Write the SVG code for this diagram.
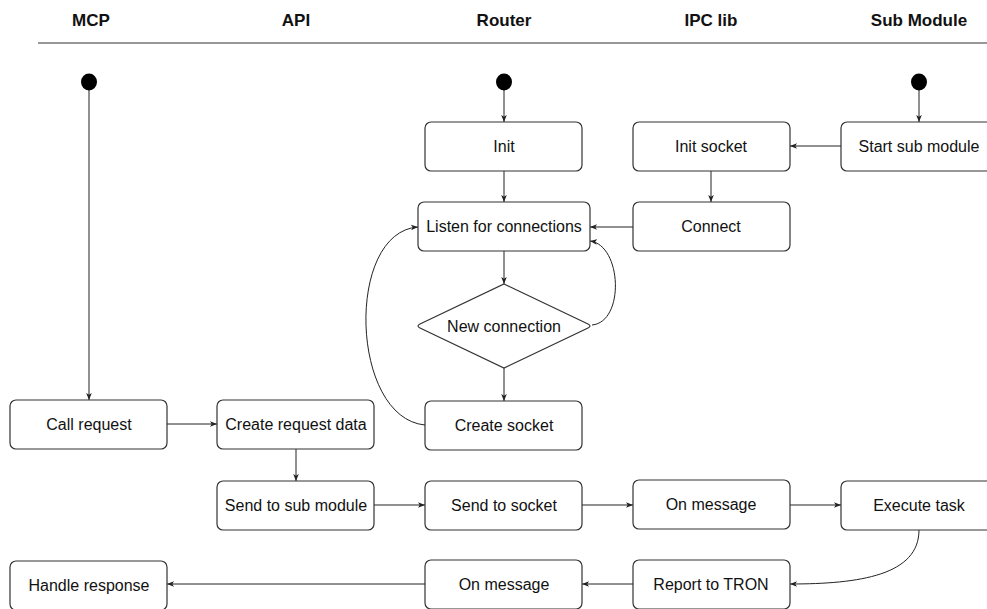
<svg xmlns="http://www.w3.org/2000/svg" width="987" height="609" viewBox="0 0 987 609">
<defs>
<marker id="arr" viewBox="0 0 10 10" refX="10" refY="5" markerWidth="7" markerHeight="7" orient="auto" markerUnits="userSpaceOnUse">
<path d="M0,1 L10,5 L0,9 L2.5,5 Z" fill="#222"/>
</marker>
<style>
.box{fill:#fff;stroke:#333;stroke-width:1.2}
.t{font-family:"Liberation Sans","DejaVu Sans",sans-serif;font-size:16px;fill:#111;text-anchor:middle;dominant-baseline:central}
.h{font-family:"Liberation Sans","DejaVu Sans",sans-serif;font-size:17px;font-weight:bold;fill:#111;text-anchor:middle;dominant-baseline:central}
.c{fill:none;stroke:#222;stroke-width:1;marker-end:url(#arr)}
</style>
</defs>
<rect width="987" height="609" fill="#fff"/>
<g id="header">
<text class="h" x="91" y="20">MCP</text>
<text class="h" x="296" y="20">API</text>
<text class="h" x="504" y="20">Router</text>
<text class="h" x="711" y="20">IPC lib</text>
<text class="h" x="919" y="20">Sub Module</text>
<line x1="38" y1="43" x2="987" y2="43" stroke="#333" stroke-width="1.2"/>
</g>
<g id="connectors">
<line class="c" x1="89" y1="88" x2="89" y2="400"/>
<line class="c" x1="504" y1="88" x2="504" y2="122"/>
<line class="c" x1="919" y1="88" x2="919" y2="122"/>
<line class="c" x1="841" y1="146" x2="790" y2="146"/>
<line class="c" x1="711" y1="171" x2="711" y2="202"/>
<line class="c" x1="633" y1="227" x2="590" y2="227"/>
<line class="c" x1="504" y1="171" x2="504" y2="202"/>
<line class="c" x1="504" y1="251" x2="504" y2="284"/>
<path class="c" d="M592,325 C625,322 622,245 590,241"/>
<line class="c" x1="504" y1="368" x2="504" y2="401"/>
<path class="c" d="M425,425 C350,418 345,232 418,227"/>
<line class="c" x1="167" y1="424" x2="217" y2="424"/>
<line class="c" x1="296" y1="449" x2="296" y2="481"/>
<line class="c" x1="374" y1="505" x2="425" y2="505"/>
<line class="c" x1="582" y1="505" x2="633" y2="505"/>
<line class="c" x1="790" y1="505" x2="841" y2="505"/>
<path class="c" d="M919,530 C919,575 860,584 790,584"/>
<line class="c" x1="633" y1="584" x2="582" y2="584"/>
<line class="c" x1="425" y1="584" x2="167" y2="584"/>
</g>
<g id="start-mcp"><ellipse cx="89" cy="82" rx="8" ry="8.5" fill="#000"/></g>
<g id="start-router"><ellipse cx="504" cy="82" rx="8" ry="8.5" fill="#000"/></g>
<g id="start-sub"><ellipse cx="919" cy="82" rx="8" ry="8.5" fill="#000"/></g>
<g id="init"><rect class="box" x="425" y="122" width="157" height="49" rx="6"/><text class="t" x="504" y="146.5">Init</text></g>
<g id="init-socket"><rect class="box" x="633" y="122" width="157" height="49" rx="6"/><text class="t" x="711" y="146.5">Init socket</text></g>
<g id="start-sub-module"><rect class="box" x="841" y="122" width="157" height="49" rx="6"/><text class="t" x="919" y="146.5">Start sub module</text></g>
<g id="listen"><rect class="box" x="418" y="202" width="172" height="49" rx="6"/><text class="t" x="504" y="226.5">Listen for connections</text></g>
<g id="connect"><rect class="box" x="633" y="202" width="157" height="49" rx="6"/><text class="t" x="711" y="226.5">Connect</text></g>
<g id="new-connection"><path class="box" d="M504,284 L588,324 Q592,326 588,328 L504,368 L420,328 Q416,326 420,324 Z"/><text class="t" x="504" y="326">New connection</text></g>
<g id="create-socket"><rect class="box" x="425" y="401" width="157" height="49" rx="6"/><text class="t" x="504" y="425.5">Create socket</text></g>
<g id="call-request"><rect class="box" x="10" y="400" width="157" height="49" rx="6"/><text class="t" x="89" y="424.5">Call request</text></g>
<g id="create-request-data"><rect class="box" x="217" y="400" width="157" height="49" rx="6"/><text class="t" x="296" y="424.5">Create request data</text></g>
<g id="send-to-sub-module"><rect class="box" x="217" y="481" width="157" height="49" rx="6"/><text class="t" x="296" y="505.5">Send to sub module</text></g>
<g id="send-to-socket"><rect class="box" x="425" y="481" width="157" height="49" rx="6"/><text class="t" x="504" y="505.5">Send to socket</text></g>
<g id="on-message-ipc"><rect class="box" x="633" y="480" width="157" height="49" rx="6"/><text class="t" x="711" y="504.5">On message</text></g>
<g id="execute-task"><rect class="box" x="841" y="481" width="157" height="49" rx="6"/><text class="t" x="919" y="505.5">Execute task</text></g>
<g id="handle-response"><rect class="box" x="10" y="561" width="157" height="49" rx="6"/><text class="t" x="89" y="585">Handle response</text></g>
<g id="on-message-router"><rect class="box" x="425" y="560" width="157" height="49" rx="6"/><text class="t" x="504" y="584">On message</text></g>
<g id="report-to-tron"><rect class="box" x="633" y="560" width="157" height="49" rx="6"/><text class="t" x="711" y="584">Report to TRON</text></g>
</svg>
